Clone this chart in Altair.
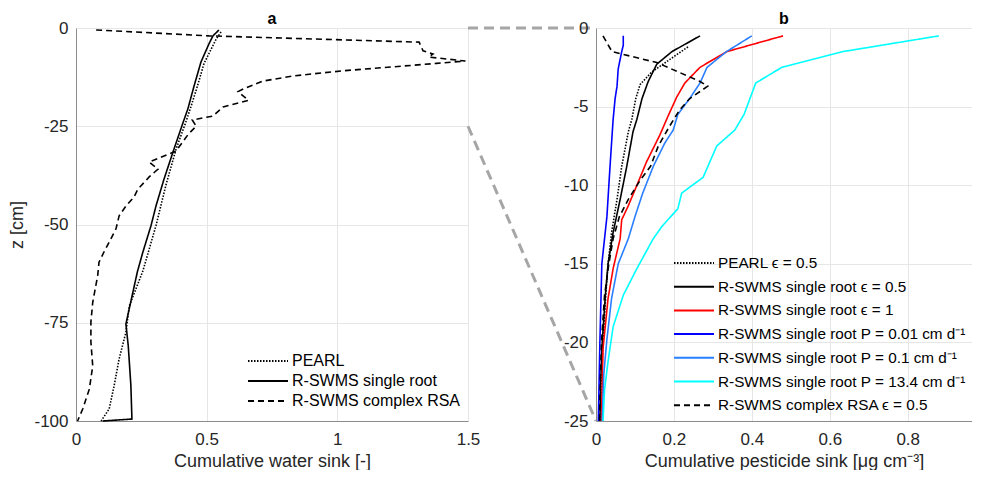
import altair as alt
import pandas as pd

# ---------------- Panel a : cumulative water sink ----------------
a_names = ["PEARL", "R-SWMS single root", "R-SWMS complex RSA"]

a_pearl_z = [-1, -3, -5, -9, -14.7, -20, -24, -30.8, -40, -50.3, -61.8, -70.7, -77.4, -84.2, -91, -96.9, -100]
a_pearl_x = [0.555, 0.535, 0.52, 0.49, 0.465, 0.44, 0.42, 0.383, 0.344, 0.306, 0.256, 0.204, 0.191, 0.165, 0.146, 0.127, 0.096]

a_single_z = [-0.5, -2, -4, -8.7, -14.7, -20.6, -24, -30.8, -38.4, -45.3, -50.3, -57, -62, -75.3, -80.9, -91, -99.5, -100]
a_single_x = [0.547, 0.524, 0.509, 0.478, 0.452, 0.428, 0.41, 0.375, 0.337, 0.306, 0.287, 0.256, 0.235, 0.191, 0.2, 0.21, 0.214, 0.102]

a_rsa_z = [-0.5, -2, -3.6, -5.8, -6.6, -7.4, -8.4, -9, -10.9, -12.2, -13.5, -15.5, -16.2, -18.4, -20.1, -22.4,
           -23.4, -25, -27, -31.3, -34.1, -35.9, -37.9, -41, -43, -45.3, -47.8, -51.1, -54.5, -57, -59.6, -63,
           -69.8, -74.8, -79.9, -86, -91.9, -96.9, -100]
a_rsa_x = [0.077, 0.509, 1.313, 1.328, 1.366, 1.35, 1.49, 1.38, 1.02, 0.83, 0.716, 0.64, 0.62, 0.66, 0.563, 0.524,
           0.445, 0.46, 0.43, 0.383, 0.28, 0.314, 0.28, 0.237, 0.222, 0.191, 0.165, 0.153, 0.127, 0.107, 0.088, 0.083,
           0.064, 0.057, 0.057, 0.064, 0.051, 0.026, 0.006]

a_colors = ["#000000", "#000000", "#000000"]
a_dashes = [[1.5, 1.5], [1, 0], [6, 4]]

# ---------------- Panel b : cumulative pesticide sink ----------------
b_names = ["PEARL \u03f5 = 0.5",
           "R-SWMS single root \u03f5 = 0.5",
           "R-SWMS single root \u03f5 = 1",
           "R-SWMS single root P = 0.01 cm d\u207b\u00b9",
           "R-SWMS single root P = 0.1 cm d\u207b\u00b9",
           "R-SWMS single root P = 13.4 cm d\u207b\u00b9",
           "R-SWMS complex RSA \u03f5 = 0.5"]

b_pearl_z = [-1.2, -2.8, -3.6, -4.5, -5.8, -6.6, -8.8, -10.9, -13, -15, -17, -20, -22.5, -25]
b_pearl_x = [0.236, 0.143, 0.113, 0.102, 0.092, 0.083, 0.066, 0.054, 0.04, 0.031, 0.025, 0.018, 0.014, 0.012]

b_single05_z = [-0.5, -1.5, -2.3, -3.4, -4.5, -5.8, -6.6, -8.8, -10.9, -13, -15, -17, -20, -22.5, -25]
b_single05_x = [0.267, 0.195, 0.156, 0.134, 0.118, 0.105, 0.095, 0.079, 0.062, 0.044, 0.031, 0.024, 0.016, 0.012, 0.01]

b_single1_z = [-0.5, -1.5, -2.5, -3.5, -4.4, -5.6, -6.8, -8.5, -10, -11.3, -12.2, -13.4, -15.3, -17.2, -20.4, -22.5, -25]
b_single1_x = [0.48, 0.336, 0.267, 0.228, 0.207, 0.185, 0.164, 0.13, 0.105, 0.083, 0.066, 0.062, 0.044, 0.031, 0.018, 0.016, 0.014]

b_p001_z = [-0.5, -1.1, -1.5, -2.6, -3.7, -4.5, -5.8, -8.8, -12, -15, -20, -25]
b_p001_x = [0.07, 0.07, 0.066, 0.057, 0.054, 0.049, 0.044, 0.036, 0.028, 0.015, 0.01, 0.006]

b_p01_z = [-0.5, -1.5, -2.5, -3.5, -4.5, -5.5, -6.5, -7.3, -8.8, -10.5, -12, -13.4, -15, -17.2, -19.8, -22, -25]
b_p01_x = [0.40, 0.335, 0.285, 0.267, 0.24, 0.21, 0.198, 0.177, 0.147, 0.12, 0.1, 0.083, 0.057, 0.04, 0.028, 0.02, 0.016]

b_p134_z = [-0.5, -1.5, -2.5, -3.5, -5.5, -6.5, -7.5, -9.5, -10.5, -11.5, -12.6, -13.4, -15.3, -17, -19, -21.2, -23, -25]
b_p134_x = [0.88, 0.634, 0.477, 0.41, 0.38, 0.356, 0.31, 0.275, 0.22, 0.21, 0.17, 0.147, 0.105, 0.07, 0.044, 0.031, 0.022, 0.018]

b_rsa_z = [-0.5, -1.5, -2.2, -3.4, -3.7, -4.5, -5.2, -6.2, -7.5, -8.8, -9.7, -10.9, -12, -13.4, -15, -17, -20, -22.5, -25]
b_rsa_x = [0.018, 0.041, 0.156, 0.267, 0.287, 0.24, 0.215, 0.19, 0.16, 0.14, 0.113, 0.083, 0.06, 0.044, 0.033, 0.022, 0.014, 0.011, 0.009]

b_colors = ["#000000", "#000000", "#ff0000", "#0000ff", "#2a7fff", "#00ffff", "#000000"]
b_dashes = [[1.5, 1.5], [1, 0], [1, 0], [1, 0], [1, 0], [1, 0], [6, 4]]

# ---------------- layout constants ----------------
A_W, A_H = 392, 393
B_W, B_H = 376, 393
GAP = 128
A_XDOM = [0, 1.5]
B_XDOM = [0, 0.965]
FONT = "Liberation Sans"


def long_frame(names, zs, xs):
    rows = []
    for n, zz, xx in zip(names, zs, xs):
        for i, (z, x) in enumerate(zip(zz, xx)):
            rows.append({"series": n, "z": z, "x": x, "idx": i})
    return pd.DataFrame(rows)


df_a = long_frame(a_names, [a_pearl_z, a_single_z, a_rsa_z], [a_pearl_x, a_single_x, a_rsa_x])
df_b = long_frame(b_names,
                  [b_pearl_z, b_single05_z, b_single1_z, b_p001_z, b_p01_z, b_p134_z, b_rsa_z],
                  [b_pearl_x, b_single05_x, b_single1_x, b_p001_x, b_p01_x, b_p134_x, b_rsa_x])

legend_common = dict(title=None, orient="none", symbolType="stroke", symbolSize=1600,
                     symbolStrokeWidth=2, labelFont=FONT, labelColor="#000000",
                     clipHeight=16, labelOffset=3, labelLimit=0)

lines_a = alt.Chart(df_a).mark_line(strokeWidth=1.6).encode(
    x=alt.X("x:Q", scale=alt.Scale(domain=A_XDOM, nice=False),
            axis=alt.Axis(values=[0, 0.5, 1, 1.5], title="Cumulative water sink [-]", format="~g")),
    y=alt.Y("z:Q", scale=alt.Scale(domain=[-100, 0], nice=False),
            axis=alt.Axis(values=[0, -25, -50, -75, -100], title="z [cm]", titlePadding=7,
                          labelExpr="'' + datum.value")),
    color=alt.Color("series:N", scale=alt.Scale(domain=a_names, range=a_colors),
                    legend=alt.Legend(legendX=171, legendY=325, rowPadding=4, labelFontSize=16,
                                      **legend_common)),
    strokeDash=alt.StrokeDash("series:N", scale=alt.Scale(domain=a_names, range=a_dashes),
                              legend=alt.Legend(legendX=171, legendY=325, rowPadding=4, labelFontSize=16,
                                                **legend_common)),
    order="idx:Q",
)

# zoom connectors: right edge of panel a mapped onto the top / bottom of panel b
x_ext = A_XDOM[1] + GAP / A_W * (A_XDOM[1] - A_XDOM[0])
conn = pd.DataFrame({"x": [A_XDOM[1], A_XDOM[1]], "x2": [x_ext, x_ext],
                     "y": [0, -25], "y2": [0, -100]})
connectors = alt.Chart(conn).mark_rule(color="#a6a6a6", strokeWidth=3, strokeDash=[10, 6], clip=False).encode(
    x="x:Q", x2="x2:Q", y="y:Q", y2="y2:Q")

panel_a = alt.layer(lines_a, connectors).properties(
    width=A_W, height=A_H,
    title=alt.TitleParams("a", fontSize=16, fontWeight="bold", font=FONT, offset=-8))

panel_b = alt.Chart(df_b).mark_line(strokeWidth=1.6).encode(
    x=alt.X("x:Q", scale=alt.Scale(domain=B_XDOM, nice=False),
            axis=alt.Axis(values=[0, 0.2, 0.4, 0.6, 0.8], format="~g",
                          title="Cumulative pesticide sink [\u03bcg cm\u207b\u00b3]")),
    y=alt.Y("z:Q", scale=alt.Scale(domain=[-25, 0], nice=False),
            axis=alt.Axis(values=[0, -5, -10, -15, -20, -25], title=None, labelExpr="'' + datum.value")),
    color=alt.Color("series:N", scale=alt.Scale(domain=b_names, range=b_colors),
                    legend=alt.Legend(legendX=77, legendY=227, rowPadding=6.7, labelFontSize=15.3,
                                      **legend_common)),
    strokeDash=alt.StrokeDash("series:N", scale=alt.Scale(domain=b_names, range=b_dashes),
                              legend=alt.Legend(legendX=77, legendY=227, rowPadding=6.7, labelFontSize=15.3,
                                                **legend_common)),
    order="idx:Q",
).properties(width=B_W, height=B_H,
             title=alt.TitleParams("b", fontSize=16, fontWeight="bold", font=FONT, offset=-8))

chart = alt.hconcat(panel_a, panel_b, spacing=GAP, bounds="flush").resolve_scale(
    color="independent", strokeDash="independent", x="independent", y="independent"
).properties(padding={"top": 3, "left": 0, "right": 0, "bottom": 0}).configure_view(stroke=None).configure_axis(
    labelFont=FONT, labelFontSize=17, labelColor="#262626", labelPadding=8,
    titleFont=FONT, titleFontSize=18, titleFontWeight="normal", titleColor="#262626",
    gridColor="#e6e6e6", domainColor="#8c8c8c", ticks=False, labelFlush=False
).configure_axisX(titlePadding=5, labelPadding=10).configure_title(anchor="middle", color="#000000")

chart.save("out.html", embed_options={"renderer": "svg", "actions": False})
